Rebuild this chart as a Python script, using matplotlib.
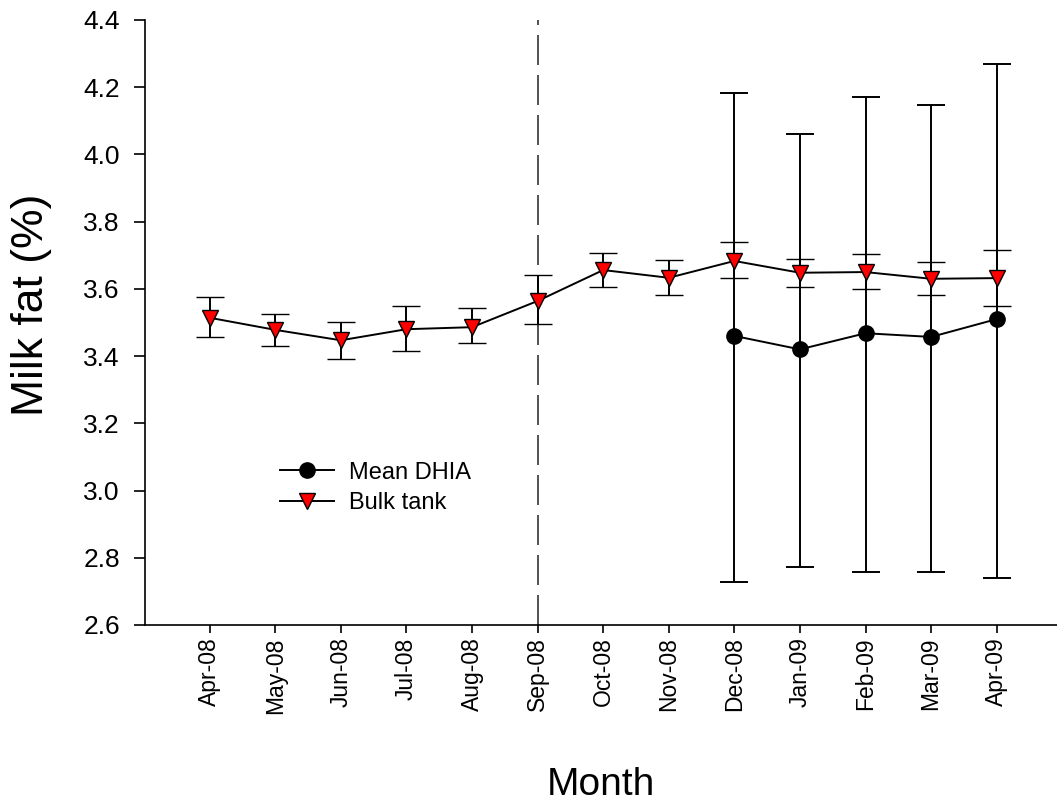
import matplotlib
matplotlib.use("Agg")
import matplotlib.pyplot as plt

months = ["Apr-08", "May-08", "Jun-08", "Jul-08", "Aug-08", "Sep-08", "Oct-08",
          "Nov-08", "Dec-08", "Jan-09", "Feb-09", "Mar-09", "Apr-09"]

bulk_mean = [3.514, 3.478, 3.447, 3.480, 3.486, 3.564, 3.656,
             3.633, 3.683, 3.648, 3.650, 3.630, 3.632]
bulk_upper = [3.577, 3.526, 3.502, 3.549, 3.542, 3.640, 3.708,
              3.687, 3.739, 3.690, 3.704, 3.681, 3.716]
bulk_lower = [3.457, 3.431, 3.391, 3.414, 3.438, 3.496, 3.605,
              3.582, 3.632, 3.606, 3.599, 3.581, 3.550]

dhia_months = ["Dec-08", "Jan-09", "Feb-09", "Mar-09", "Apr-09"]
dhia_mean = [3.460, 3.420, 3.468, 3.457, 3.510]
dhia_upper = [4.184, 4.061, 4.170, 4.148, 4.270]
dhia_lower = [2.728, 2.771, 2.758, 2.758, 2.741]

plt.rcParams["font.family"] = ["Liberation Sans", "DejaVu Sans"]

fig = plt.figure(figsize=(10.57, 8.06), dpi=100)
ax = fig.add_axes([0.137, 0.2246, 0.863, 0.7506])

x_all = list(range(len(months)))
x_dhia = [months.index(m) for m in dhia_months]

bulk_err = [[m - lo for m, lo in zip(bulk_mean, bulk_lower)],
            [hi - m for m, hi in zip(bulk_mean, bulk_upper)]]
dhia_err = [[m - lo for m, lo in zip(dhia_mean, dhia_lower)],
            [hi - m for m, hi in zip(dhia_mean, dhia_upper)]]

# study period change
ax.axvline(months.index("Sep-08"), color="#333333", lw=1.2,
           dashes=(18, 6), zorder=1)

ax.errorbar(x_dhia, dhia_mean, yerr=dhia_err, color="black", lw=1.4,
            elinewidth=1.4, capsize=10, capthick=1.4, marker="o",
            markersize=11, markerfacecolor="black", markeredgecolor="black",
            label="Mean DHIA", zorder=3)
ax.errorbar(x_all, bulk_mean, yerr=bulk_err, color="black", lw=1.4,
            elinewidth=1.4, capsize=10, capthick=1.4, marker="v",
            markersize=11, markerfacecolor="red", markeredgecolor="black",
            markeredgewidth=1.0, label="Bulk tank", zorder=4)

ax.set_xlim(-0.99, 12.92)
ax.set_ylim(2.6, 4.4)
ax.set_yticks([2.6, 2.8, 3.0, 3.2, 3.4, 3.6, 3.8, 4.0, 4.2, 4.4])
ax.set_yticklabels([f"{v:.1f}" for v in ax.get_yticks()])
ax.set_xticks(x_all)
ax.set_xticklabels(months, rotation=90)
ax.tick_params(axis="both", direction="out", width=1.2, color="black")
ax.tick_params(axis="y", length=8, pad=10, labelsize=19)
ax.tick_params(axis="x", length=6, pad=3, labelsize=16.5)

for s in ["top", "right"]:
    ax.spines[s].set_visible(False)
for s in ["left", "bottom"]:
    ax.spines[s].set_linewidth(1.2)

ax.set_ylabel("Milk fat (%)", fontsize=32)
ax.yaxis.set_label_coords(-0.102, 0.53)
ax.set_xlabel("Month", fontsize=28, va="center")
ax.xaxis.set_label_coords(0.5, -0.265)

handles, labels = ax.get_legend_handles_labels()
handles = [h[0] for h in handles]
ax.legend(handles, labels, loc="upper left", bbox_to_anchor=(0.125, 0.305),
          frameon=False, fontsize=17, handlelength=2.3, handletextpad=0.6,
          labelspacing=0.35)

fig.savefig("out.png", dpi=100)
